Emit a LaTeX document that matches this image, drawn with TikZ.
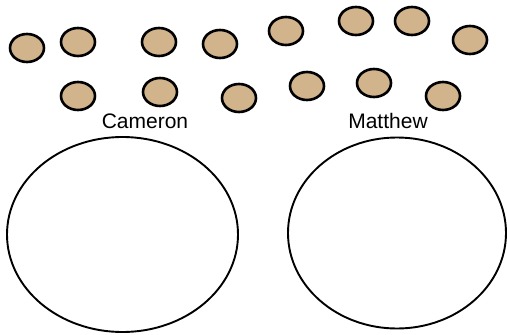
\documentclass[tikz,border=0pt]{standalone}
\usepackage{fontspec}
\setmainfont{Liberation Sans}
\usetikzlibrary{shapes.geometric}
\definecolor{cookietan}{RGB}{210,180,140}
\tikzset{
    cookie/.style={ellipse,draw,line width=2.6pt,fill=cookietan,minimum width=34pt,minimum height=28pt,inner sep=0pt},
    plate/.style={ellipse,draw,line width=1.9pt,inner sep=0pt},
    personlabel/.style={font=\fontsize{21}{25}\selectfont,inner sep=0pt}
}
\begin{document}
\begin{tikzpicture}[x=1pt,y=-1pt]
    \useasboundingbox (0,0) rectangle (507,335);
    \foreach \n/\x/\y in {1/27/48, 2/78/42, 3/159/42, 4/220/44, 5/78/96, 6/160/92, 7/239/98,
        8/286/31, 9/356/21, 10/412/21, 11/470/40, 12/307/86, 13/374/83, 14/443/96}
        \node[cookie] (c\n) at (\x,\y) {};
    \node[plate,minimum width=231pt,minimum height=195pt] (cameron) at (122.5,234.5) {};
    \node[plate,minimum width=218pt,minimum height=191pt] (matthew) at (397,233) {};
    \node[personlabel,anchor=base] (camlabel) at (145,128) {Cameron};
    \node[personlabel,anchor=base] (matlabel) at (388,128) {Matthew};
\end{tikzpicture}
\end{document}
